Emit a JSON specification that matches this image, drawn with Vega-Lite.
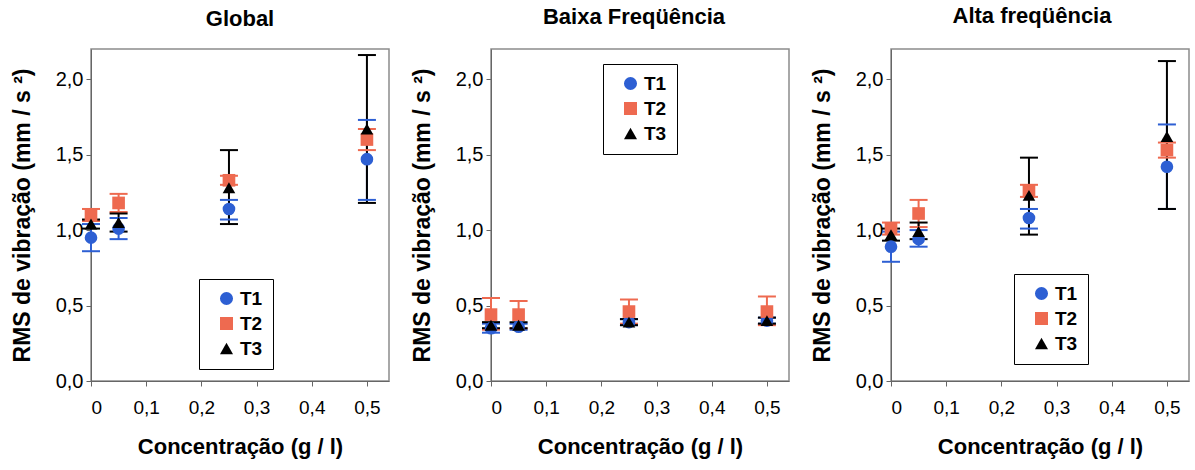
{
  "$schema": "https://vega.github.io/schema/vega-lite/v6.json",
  "background": "white",
  "padding": {"left": 10, "top": 4, "right": 5, "bottom": 5},
  "spacing": 20,
  "config": {
    "font": "Liberation Sans",
    "view": {"stroke": "#8c8c8c", "strokeWidth": 1.5},
    "title": {"fontSize": 22, "fontWeight": "bold", "font": "Liberation Sans", "offset": 18, "color": "black", "frame": "group"},
    "axis": {"labelFont": "Liberation Sans", "labelColor": "black", "titleColor": "black", "titleFont": "Liberation Sans", "titleFontWeight": "bold", "grid": false, "domainColor": "#666", "tickColor": "#666", "tickSize": 5},
    "axisX": {"labelFontSize": 19, "titleFontSize": 22, "labelPadding": 12, "titlePadding": 19},
    "axisY": {"labelFontSize": 20, "titleFontSize": 23, "labelPadding": 3, "titlePadding": 21},
    "legend": {"orient": "none", "title": null, "strokeColor": "black", "fillColor": "white", "padding": 10, "symbolOffset": 8, "labelOffset": 4, "labelFontSize": 19, "labelFontWeight": "bold", "labelColor": "black", "symbolSize": 170, "rowPadding": 5, "symbolStrokeWidth": 0, "symbolOpacity": 1}
  },
  "datasets": {
    "global": [
      {"conc": 0, "series": "T1", "mean": 0.95, "lo": 0.86, "hi": 1.04},
      {"conc": 0, "series": "T2", "mean": 1.10, "lo": 1.06, "hi": 1.14},
      {"conc": 0, "series": "T3", "mean": 1.04, "lo": 1.01, "hi": 1.07},
      {"conc": 0.05, "series": "T1", "mean": 1.01, "lo": 0.94, "hi": 1.08},
      {"conc": 0.05, "series": "T2", "mean": 1.18, "lo": 1.12, "hi": 1.24},
      {"conc": 0.05, "series": "T3", "mean": 1.05, "lo": 0.99, "hi": 1.11},
      {"conc": 0.25, "series": "T1", "mean": 1.14, "lo": 1.07, "hi": 1.20},
      {"conc": 0.25, "series": "T2", "mean": 1.33, "lo": 1.30, "hi": 1.36},
      {"conc": 0.25, "series": "T3", "mean": 1.28, "lo": 1.04, "hi": 1.53},
      {"conc": 0.5, "series": "T1", "mean": 1.47, "lo": 1.20, "hi": 1.73},
      {"conc": 0.5, "series": "T2", "mean": 1.60, "lo": 1.53, "hi": 1.67},
      {"conc": 0.5, "series": "T3", "mean": 1.67, "lo": 1.18, "hi": 2.16}
    ],
    "baixa": [
      {"conc": 0, "series": "T1", "mean": 0.35, "lo": 0.32, "hi": 0.38},
      {"conc": 0, "series": "T2", "mean": 0.44, "lo": 0.34, "hi": 0.55},
      {"conc": 0, "series": "T3", "mean": 0.37, "lo": 0.35, "hi": 0.39},
      {"conc": 0.05, "series": "T1", "mean": 0.36, "lo": 0.34, "hi": 0.38},
      {"conc": 0.05, "series": "T2", "mean": 0.44, "lo": 0.35, "hi": 0.53},
      {"conc": 0.05, "series": "T3", "mean": 0.37, "lo": 0.35, "hi": 0.39},
      {"conc": 0.25, "series": "T1", "mean": 0.39, "lo": 0.37, "hi": 0.41},
      {"conc": 0.25, "series": "T2", "mean": 0.46, "lo": 0.38, "hi": 0.54},
      {"conc": 0.25, "series": "T3", "mean": 0.39, "lo": 0.37, "hi": 0.41},
      {"conc": 0.5, "series": "T1", "mean": 0.40, "lo": 0.38, "hi": 0.42},
      {"conc": 0.5, "series": "T2", "mean": 0.46, "lo": 0.37, "hi": 0.56},
      {"conc": 0.5, "series": "T3", "mean": 0.40, "lo": 0.38, "hi": 0.42}
    ],
    "alta": [
      {"conc": 0, "series": "T1", "mean": 0.89, "lo": 0.79, "hi": 0.99},
      {"conc": 0, "series": "T2", "mean": 1.01, "lo": 0.97, "hi": 1.05},
      {"conc": 0, "series": "T3", "mean": 0.97, "lo": 0.93, "hi": 1.01},
      {"conc": 0.05, "series": "T1", "mean": 0.94, "lo": 0.89, "hi": 1.00},
      {"conc": 0.05, "series": "T2", "mean": 1.11, "lo": 1.02, "hi": 1.20},
      {"conc": 0.05, "series": "T3", "mean": 0.99, "lo": 0.94, "hi": 1.05},
      {"conc": 0.25, "series": "T1", "mean": 1.08, "lo": 1.01, "hi": 1.14},
      {"conc": 0.25, "series": "T2", "mean": 1.26, "lo": 1.22, "hi": 1.30},
      {"conc": 0.25, "series": "T3", "mean": 1.23, "lo": 0.97, "hi": 1.48},
      {"conc": 0.5, "series": "T1", "mean": 1.42, "lo": 1.14, "hi": 1.70},
      {"conc": 0.5, "series": "T2", "mean": 1.53, "lo": 1.48, "hi": 1.58},
      {"conc": 0.5, "series": "T3", "mean": 1.62, "lo": 1.14, "hi": 2.12}
    ]
  },
  "resolve": {"scale": {"x": "independent", "y": "independent"}, "legend": {"color": "independent", "shape": "independent"}},
  "hconcat": [
    {
      "title": {"text": "Global"},
      "width": 298, "height": 332,
      "data": {"name": "global"},
      "encoding": {
        "x": {"field": "conc", "type": "quantitative", "scale": {"domain": [0, 0.54], "nice": false, "zero": false}, "axis": {"values": [0, 0.1, 0.2, 0.3, 0.4, 0.5], "labelExpr": "replace(format(datum.value,'.1~f'),'.',',')", "title": "Concentração (g / l)"}}
      },
      "layer": [
        {"mark": {"type": "rule", "strokeWidth": 2}, "encoding": {"y": {"field": "lo", "type": "quantitative", "scale": {"domain": [0, 2.2], "nice": false}, "title": "RMS de vibração  (mm / s ²)", "axis": {"values": [0, 0.5, 1, 1.5, 2], "labelExpr": "replace(format(datum.value,'.1f'),'.',',')"}}, "y2": {"field": "hi"}, "stroke": {"field": "series", "type": "nominal", "scale": {"domain": ["T1", "T2", "T3"], "range": ["#2D5FD3", "#EE6A50", "#000000"]}, "legend": null}}},
        {"mark": {"type": "tick", "orient": "horizontal", "thickness": 2, "size": 18, "opacity": 1}, "encoding": {"y": {"field": "lo", "type": "quantitative", "scale": {"domain": [0, 2.2], "nice": false}, "title": "RMS de vibração  (mm / s ²)", "axis": {"values": [0, 0.5, 1, 1.5, 2], "labelExpr": "replace(format(datum.value,'.1f'),'.',',')"}}, "fill": {"field": "series", "type": "nominal", "scale": {"domain": ["T1", "T2", "T3"], "range": ["#2D5FD3", "#EE6A50", "#000000"]}, "legend": null}}},
        {"mark": {"type": "tick", "orient": "horizontal", "thickness": 2, "size": 18, "opacity": 1}, "encoding": {"y": {"field": "hi", "type": "quantitative", "scale": {"domain": [0, 2.2], "nice": false}, "title": "RMS de vibração  (mm / s ²)", "axis": {"values": [0, 0.5, 1, 1.5, 2], "labelExpr": "replace(format(datum.value,'.1f'),'.',',')"}}, "fill": {"field": "series", "type": "nominal", "scale": {"domain": ["T1", "T2", "T3"], "range": ["#2D5FD3", "#EE6A50", "#000000"]}, "legend": null}}},
        {"mark": {"type": "point", "filled": true, "size": 160, "opacity": 1}, "encoding": {
          "y": {"field": "mean", "type": "quantitative", "scale": {"domain": [0, 2.2], "nice": false}, "title": "RMS de vibração  (mm / s ²)", "axis": {"values": [0, 0.5, 1, 1.5, 2], "labelExpr": "replace(format(datum.value,'.1f'),'.',',')"}},
          "color": {"field": "series", "type": "nominal", "scale": {"domain": ["T1", "T2", "T3"], "range": ["#2D5FD3", "#EE6A50", "#000000"]}, "legend": {"legendX": 108, "legendY": 230}},
          "shape": {"field": "series", "type": "nominal", "scale": {"domain": ["T1", "T2", "T3"], "range": ["circle", "square", "triangle-up"]}, "legend": {"legendX": 108, "legendY": 230}}
        }}
      ]
    },
    {
      "title": {"text": "Baixa Freqüência", "dx": -6, "offset": 20},
      "width": 298, "height": 332,
      "data": {"name": "baixa"},
      "encoding": {
        "x": {"field": "conc", "type": "quantitative", "scale": {"domain": [0, 0.54], "nice": false, "zero": false}, "axis": {"values": [0, 0.1, 0.2, 0.3, 0.4, 0.5], "labelExpr": "replace(format(datum.value,'.1~f'),'.',',')", "title": "Concentração (g / l)"}}
      },
      "layer": [
        {"mark": {"type": "rule", "strokeWidth": 2}, "encoding": {"y": {"field": "lo", "type": "quantitative", "scale": {"domain": [0, 2.2], "nice": false}, "title": "RMS de vibração (mm / s ²)", "axis": {"values": [0, 0.5, 1, 1.5, 2], "labelExpr": "replace(format(datum.value,'.1f'),'.',',')"}}, "y2": {"field": "hi"}, "stroke": {"field": "series", "type": "nominal", "scale": {"domain": ["T1", "T2", "T3"], "range": ["#2D5FD3", "#EE6A50", "#000000"]}, "legend": null}}},
        {"mark": {"type": "tick", "orient": "horizontal", "thickness": 2, "size": 18, "opacity": 1}, "encoding": {"y": {"field": "lo", "type": "quantitative", "scale": {"domain": [0, 2.2], "nice": false}, "title": "RMS de vibração (mm / s ²)", "axis": {"values": [0, 0.5, 1, 1.5, 2], "labelExpr": "replace(format(datum.value,'.1f'),'.',',')"}}, "fill": {"field": "series", "type": "nominal", "scale": {"domain": ["T1", "T2", "T3"], "range": ["#2D5FD3", "#EE6A50", "#000000"]}, "legend": null}}},
        {"mark": {"type": "tick", "orient": "horizontal", "thickness": 2, "size": 18, "opacity": 1}, "encoding": {"y": {"field": "hi", "type": "quantitative", "scale": {"domain": [0, 2.2], "nice": false}, "title": "RMS de vibração (mm / s ²)", "axis": {"values": [0, 0.5, 1, 1.5, 2], "labelExpr": "replace(format(datum.value,'.1f'),'.',',')"}}, "fill": {"field": "series", "type": "nominal", "scale": {"domain": ["T1", "T2", "T3"], "range": ["#2D5FD3", "#EE6A50", "#000000"]}, "legend": null}}},
        {"mark": {"type": "point", "filled": true, "size": 160, "opacity": 1}, "encoding": {
          "y": {"field": "mean", "type": "quantitative", "scale": {"domain": [0, 2.2], "nice": false}, "title": "RMS de vibração (mm / s ²)", "axis": {"values": [0, 0.5, 1, 1.5, 2], "labelExpr": "replace(format(datum.value,'.1f'),'.',',')"}},
          "color": {"field": "series", "type": "nominal", "scale": {"domain": ["T1", "T2", "T3"], "range": ["#2D5FD3", "#EE6A50", "#000000"]}, "legend": {"legendX": 112, "legendY": 15}},
          "shape": {"field": "series", "type": "nominal", "scale": {"domain": ["T1", "T2", "T3"], "range": ["circle", "square", "triangle-up"]}, "legend": {"legendX": 112, "legendY": 15}}
        }}
      ]
    },
    {
      "title": {"text": "Alta freqüência", "dx": -8, "offset": 21},
      "width": 298, "height": 332,
      "data": {"name": "alta"},
      "encoding": {
        "x": {"field": "conc", "type": "quantitative", "scale": {"domain": [0, 0.54], "nice": false, "zero": false}, "axis": {"values": [0, 0.1, 0.2, 0.3, 0.4, 0.5], "labelExpr": "replace(format(datum.value,'.1~f'),'.',',')", "title": "Concentração (g / l)"}}
      },
      "layer": [
        {"mark": {"type": "rule", "strokeWidth": 2}, "encoding": {"y": {"field": "lo", "type": "quantitative", "scale": {"domain": [0, 2.2], "nice": false}, "title": "RMS de vibração (mm / s ²)", "axis": {"values": [0, 0.5, 1, 1.5, 2], "labelExpr": "replace(format(datum.value,'.1f'),'.',',')"}}, "y2": {"field": "hi"}, "stroke": {"field": "series", "type": "nominal", "scale": {"domain": ["T1", "T2", "T3"], "range": ["#2D5FD3", "#EE6A50", "#000000"]}, "legend": null}}},
        {"mark": {"type": "tick", "orient": "horizontal", "thickness": 2, "size": 18, "opacity": 1}, "encoding": {"y": {"field": "lo", "type": "quantitative", "scale": {"domain": [0, 2.2], "nice": false}, "title": "RMS de vibração (mm / s ²)", "axis": {"values": [0, 0.5, 1, 1.5, 2], "labelExpr": "replace(format(datum.value,'.1f'),'.',',')"}}, "fill": {"field": "series", "type": "nominal", "scale": {"domain": ["T1", "T2", "T3"], "range": ["#2D5FD3", "#EE6A50", "#000000"]}, "legend": null}}},
        {"mark": {"type": "tick", "orient": "horizontal", "thickness": 2, "size": 18, "opacity": 1}, "encoding": {"y": {"field": "hi", "type": "quantitative", "scale": {"domain": [0, 2.2], "nice": false}, "title": "RMS de vibração (mm / s ²)", "axis": {"values": [0, 0.5, 1, 1.5, 2], "labelExpr": "replace(format(datum.value,'.1f'),'.',',')"}}, "fill": {"field": "series", "type": "nominal", "scale": {"domain": ["T1", "T2", "T3"], "range": ["#2D5FD3", "#EE6A50", "#000000"]}, "legend": null}}},
        {"mark": {"type": "point", "filled": true, "size": 160, "opacity": 1}, "encoding": {
          "y": {"field": "mean", "type": "quantitative", "scale": {"domain": [0, 2.2], "nice": false}, "title": "RMS de vibração (mm / s ²)", "axis": {"values": [0, 0.5, 1, 1.5, 2], "labelExpr": "replace(format(datum.value,'.1f'),'.',',')"}},
          "color": {"field": "series", "type": "nominal", "scale": {"domain": ["T1", "T2", "T3"], "range": ["#2D5FD3", "#EE6A50", "#000000"]}, "legend": {"legendX": 123, "legendY": 225}},
          "shape": {"field": "series", "type": "nominal", "scale": {"domain": ["T1", "T2", "T3"], "range": ["circle", "square", "triangle-up"]}, "legend": {"legendX": 123, "legendY": 225}}
        }}
      ]
    }
  ]
}
